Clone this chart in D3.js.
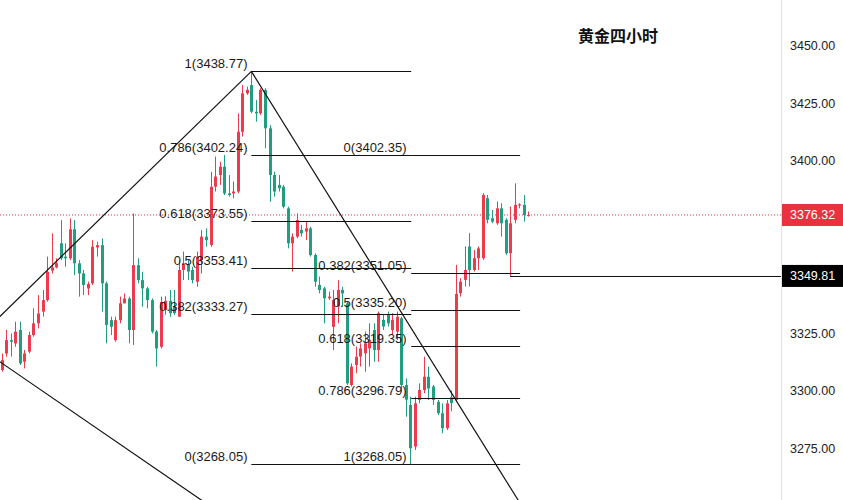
<!DOCTYPE html>
<html><head><meta charset="utf-8">
<script src="https://cdn.jsdelivr.net/npm/d3@7"></script>
<style>html,body{margin:0;padding:0;background:#fff;}svg{display:block;}</style>
</head><body>
<svg id="c" width="843" height="500"></svg>
<script>
const title = "黄金四小时";
const opens  = [3308.9,3316.1,3321.9,3320.5,3326.3,3312.5,3316.9,3324.1,3329.2,3334.3,3339.3,3352.1,3353.5,3364.0,3358.2,3357.5,3370.1,3355.3,3350.9,3344.4,3346.6,3362.2,3363.2,3346.6,3330.6,3321.9,3330.6,3337.9,3340.0,3326.3,3354.5,3348.0,3344.4,3339.3,3325.6,3319.0,3335.0,3339.0,3336.5,3332.1,3352.4,3354.6,3352.4,3347.3,3356.7,3366.9,3363.3,3388.6,3393.7,3397.3,3385.7,3385.7,3386.5,3412.5,3429.2,3432.8,3421.2,3420.5,3430.7,3414.0,3393.7,3389.4,3388.6,3379.2,3364.0,3366.9,3369.8,3369.1,3370.5,3358.9,3345.9,3344.4,3340.1,3327.7,3336.5,3343.7,3337.9,3302.4,3311.1,3314.7,3316.2,3318.3,3326.3,3317.6,3330.7,3332.8,3326.3,3325.6,3331.4,3302.4,3293.7,3275.6,3295.9,3300.2,3306.0,3301.7,3295.1,3290.1,3283.6,3297.0,3295.9,3342.3,3348.1,3362.6,3352.4,3357.5,3357.5,3383.6,3374.9,3372.7,3379.2,3374.2,3359.7,3374.2,3380.4,3380.7,3376.1];
const highs  = [3316.1,3326.3,3324.8,3329.9,3329.9,3317.6,3325.6,3335.7,3341.5,3343.7,3358.2,3368.3,3357.5,3374.1,3364.0,3374.8,3374.1,3356.7,3352.4,3347.3,3365.4,3364.7,3366.1,3347.3,3332.1,3332.1,3340.8,3342.2,3340.8,3377.0,3357.5,3351.6,3345.1,3340.0,3326.3,3340.8,3341.0,3343.7,3343.7,3356.7,3360.4,3356.7,3353.8,3360.4,3369.8,3370.5,3395.1,3401.7,3399.5,3402.4,3393.7,3390.8,3420.5,3432.8,3432.1,3438.77,3426.3,3431.4,3431.4,3415.4,3395.1,3393.7,3389.4,3379.9,3368.3,3377.0,3372.0,3373.4,3371.2,3359.6,3349.5,3345.1,3343.0,3343.7,3348.0,3345.1,3338.5,3311.8,3319.1,3320.5,3325.6,3329.2,3329.2,3334.3,3332.8,3334.3,3333.6,3334.3,3332.1,3305.3,3297.3,3297.3,3303.1,3314.7,3310.4,3302.4,3295.9,3294.4,3295.9,3300.0,3354.6,3348.8,3362.6,3368.4,3361.1,3362.6,3385.8,3385.0,3378.5,3382.1,3381.4,3374.9,3380.0,3390.1,3381.4,3385.0,3377.8];
const lows   = [3308.2,3314.7,3314.7,3319.0,3311.1,3309.6,3316.1,3323.4,3327.0,3332.1,3338.6,3350.9,3353.1,3356.7,3353.8,3356.7,3350.2,3340.8,3341.5,3341.5,3345.9,3358.2,3334.3,3320.5,3324.1,3321.2,3329.2,3337.9,3320.5,3319.8,3346.6,3336.4,3335.7,3324.8,3310.4,3318.3,3333.0,3332.0,3332.8,3332.1,3348.0,3348.0,3346.6,3345.1,3350.9,3362.5,3362.5,3386.5,3389.4,3385.0,3384.3,3383.6,3385.7,3410.4,3428.5,3420.5,3416.9,3419.8,3405.3,3382.1,3384.3,3386.5,3379.2,3361.8,3351.7,3366.2,3366.9,3365.4,3358.2,3345.1,3342.2,3329.2,3339.4,3317.6,3329.2,3336.5,3302.4,3301.7,3307.5,3310.4,3308.2,3310.4,3312.5,3312.5,3326.3,3327.8,3324.1,3322.0,3299.5,3288.6,3268.05,3274.1,3294.4,3298.8,3295.9,3293.7,3289.4,3281.4,3282.8,3291.0,3295.0,3340.8,3345.2,3345.2,3351.7,3352.4,3356.8,3372.7,3372.7,3372.0,3366.9,3358.9,3349.81,3372.7,3379.2,3373.4,3375.6];
const closes = [3313.2,3321.9,3321.2,3325.6,3311.8,3316.1,3324.1,3329.2,3333.5,3339.3,3351.6,3353.5,3355.3,3357.5,3357.5,3370.1,3355.3,3350.9,3345.9,3346.3,3362.5,3363.2,3346.6,3328.5,3327.7,3330.6,3337.9,3340.0,3326.3,3354.5,3348.0,3344.4,3339.3,3325.6,3318.3,3338.5,3339.0,3333.6,3333.6,3352.4,3355.3,3351.7,3348.0,3358.2,3366.9,3365.4,3388.6,3393.0,3397.3,3385.7,3385.0,3386.5,3412.5,3429.2,3430.7,3421.2,3420.5,3430.7,3414.0,3393.7,3386.5,3387.9,3379.9,3364.0,3366.9,3374.1,3368.3,3370.5,3358.9,3347.3,3343.7,3340.1,3340.8,3339.4,3343.7,3342.2,3303.1,3310.4,3314.7,3318.3,3320.5,3322.0,3317.6,3333.6,3327.8,3329.2,3330.7,3332.1,3302.4,3296.0,3274.9,3294.4,3300.2,3306.0,3300.9,3295.9,3290.1,3283.6,3294.4,3294.5,3342.0,3347.3,3352.4,3352.4,3357.5,3361.8,3385.0,3374.2,3373.4,3379.2,3372.7,3359.7,3372.7,3380.7,3380.9,3376.3,3376.32];

const axisTicks = [3275, 3300, 3325, 3350, 3375, 3400, 3425, 3450];
const lastPrice = 3376.32;
const markPrice = 3349.81;
const markStartIndex = 112;

const fibLeftRatios = ["1", "0.786", "0.618", "0.5", "0.382", "0"];
const fibLeftPrices = [3438.77, 3402.24, 3373.55, 3353.41, 3333.27, 3268.05];
const fibLeftSpan = [55, 90.2];
const fibRightRatios = ["0", "0.382", "0.5", "0.618", "0.786", "1"];
const fibRightPrices = [3402.35, 3351.05, 3335.20, 3319.35, 3296.79, 3268.05];
const fibRightSpan = [90.2, 114.2];

// trend lines: [index, price] pairs
const trendUp    = [[-1, 3331.05], [55, 3438.77]];
const trendLow   = [[-1, 3313.3], [45.5, 3250.3]];
const trendDown  = [[55, 3438.77], [114.5, 3250.0]];

const RED = "#eb3b4c", GREEN = "#1f9f7e";
const svg = d3.select("#c");
const W = 843, H = 500, axisX = 781;
const n = opens.length;
const x = d3.scaleLinear().domain([0, 116]).range([1.7, 528.3]);
const y = d3.scaleLinear().domain([3275, 3450]).range([448, 45.5]);
const FONT = "'Liberation Sans', Arial, Helvetica, sans-serif";

svg.append("defs").append("clipPath").attr("id","plot").append("rect")
  .attr("x",0).attr("y",0).attr("width",axisX).attr("height",H);

const plot = svg.append("g").attr("clip-path","url(#plot)");

// last price dotted line
plot.append("line").attr("x1",0).attr("x2",axisX)
  .attr("y1",y(lastPrice)).attr("y2",y(lastPrice))
  .attr("stroke","#e8323f").attr("stroke-width",1).attr("stroke-dasharray","1,2");

// candles
const data = d3.range(n).map(i=>({i,o:opens[i],h:highs[i],l:lows[i],c:closes[i]}));
const cg = plot.append("g");
data.forEach(d=>{
  const col = d.c >= d.o ? RED : GREEN;
  const cx = Math.round(x(d.i)) + 0.5;
  cg.append("line").attr("x1",cx).attr("x2",cx).attr("y1",y(d.h)).attr("y2",y(d.l))
    .attr("stroke",col).attr("stroke-width",1);
  const top = y(Math.max(d.o,d.c)), bot = y(Math.min(d.o,d.c));
  cg.append("rect").attr("x",cx-1.5).attr("width",3)
    .attr("y",top).attr("height",Math.max(1,bot-top)).attr("fill",col);
});

// fib tools
function fib(ratios, prices, span, labelX){
  const g = plot.append("g");
  prices.forEach((p,k)=>{
    g.append("line").attr("x1",x(span[0])).attr("x2",x(span[1]))
      .attr("y1",Math.round(y(p))+0.5).attr("y2",Math.round(y(p))+0.5)
      .attr("stroke","#111").attr("stroke-width",1);
    g.append("text").attr("x",labelX).attr("y",y(p)-3)
      .attr("text-anchor","end").attr("font-family",FONT).attr("font-size","13px")
      .attr("fill","#1a1a1a").text(ratios[k]+"("+p.toFixed(2)+")");
  });
}
fib(fibLeftRatios, fibLeftPrices, fibLeftSpan, 247.5);
fib(fibRightRatios, fibRightPrices, fibRightSpan, 406.5);

// mark line
plot.append("line").attr("x1",x(markStartIndex)).attr("x2",axisX)
  .attr("y1",Math.round(y(markPrice))+0.5).attr("y2",Math.round(y(markPrice))+0.5)
  .attr("stroke","#111").attr("stroke-width",1);

// trend lines
[trendUp, trendLow, trendDown].forEach(t=>{
  plot.append("line").attr("x1",x(t[0][0])).attr("y1",y(t[0][1]))
    .attr("x2",x(t[1][0])).attr("y2",y(t[1][1]))
    .attr("stroke","#111").attr("stroke-width",1.2);
});

// axis (ticks covered by the price boxes are not shown)
svg.append("line").attr("x1",axisX+0.5).attr("x2",axisX+0.5).attr("y1",0).attr("y2",H)
  .attr("stroke","#e2e2e2").attr("stroke-width",1);
const shownTicks = axisTicks.filter(t => Math.abs(y(t)-y(lastPrice)) > 14 && Math.abs(y(t)-y(markPrice)) > 14);
const ax = svg.append("g").attr("transform",`translate(${axisX},0)`)
  .call(d3.axisRight(y).tickValues(shownTicks).tickSize(0).tickPadding(9).tickFormat(d3.format(".2f")));
ax.select(".domain").remove();
ax.selectAll("text").attr("font-family",FONT).attr("font-size","12.5px").attr("fill","#222");

function box(p, fill){
  const g = svg.append("g");
  g.append("rect").attr("x",axisX+1).attr("y",y(p)-11).attr("width",W-axisX-1).attr("height",22).attr("fill",fill);
  g.append("text").attr("x",axisX+9).attr("y",y(p)).attr("dy","0.35em")
    .attr("font-family",FONT).attr("font-size","12.5px").attr("fill","#fff").text(p.toFixed(2));
}
box(lastPrice, "#e8323f");
box(markPrice, "#000");

svg.append("text").attr("x",618).attr("y",42).attr("text-anchor","middle")
  .attr("font-family","'Noto Sans CJK SC', sans-serif").attr("font-weight","bold")
  .attr("font-size","16px").attr("fill","#111").text(title);
</script>
</body></html>
